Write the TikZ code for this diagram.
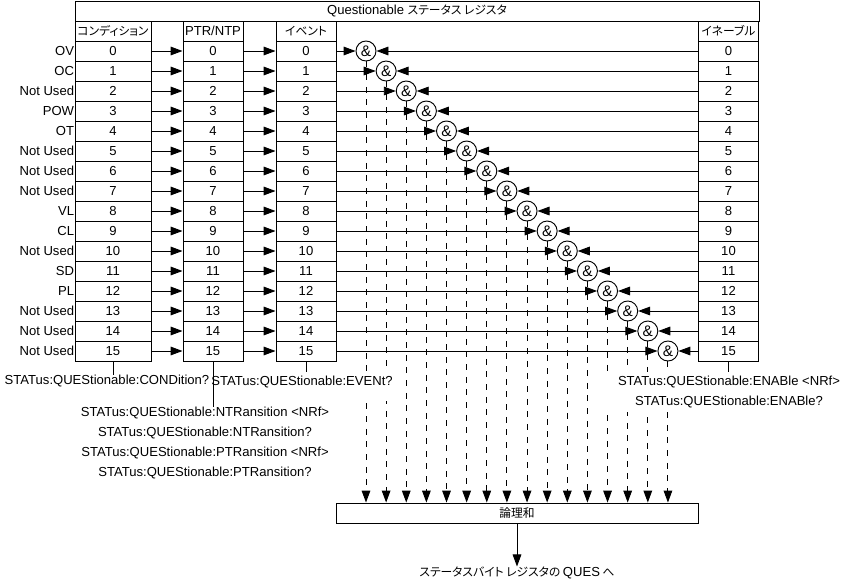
\documentclass[tikz,border=0pt]{standalone}
\usepackage{fontspec}
\setmainfont{Liberation Sans}
\newfontfamily\jp[RawFeature=+palt, Scale=0.9]{Noto Sans CJK JP}
\usetikzlibrary{arrows.meta,positioning}

\begin{document}
\begin{tikzpicture}
		[x=0.75pt, y=-0.75pt, font=\fontsize{9.8pt}{15pt}\selectfont, line width=0.7pt,
		reg/.style	= {rectangle, draw, inner sep=0pt, minimum height=15pt},
		cond/.style	= {reg, minimum width=57pt},
		bit/.style	= {reg, minimum width=45pt},
		gate/.style	= {circle, draw, inner sep=0pt, minimum size=15pt, font=\fontsize{11.5pt}{12pt}\selectfont},
		paths/.style	= {-{Triangle[length=9pt,width=6.5pt]}},
		enpath/.style	= {paths, dash pattern=on 4.5pt off 5pt},
		cmd/.style	= {inner sep=0pt},
		blank/.style	= {fill=white, inner xsep=2pt, inner ysep=3pt}]
		
		\useasboundingbox (0,0) rectangle (844,583);
		
		% register title and column heads
		\node at (417, 11)		[reg, minimum width=513pt]	(title)	{Questionable {\jp ステータス レジスタ}};
		\node at (113, 31)		[cond]	(hc)	{\jp コンディション};
		\node at (213, 31)		[bit]	(hp)	{PTR/NTP};
		\node at (306, 31)		[bit]	(he)	{\jp イベント};
		\node at (728.5, 31)	[bit]	(hn)	{\jp イネーブル};
		
		\node at (517, 513)		[reg, minimum width=271.5pt]	(lor)	{\jp 論理和};
		
		% one row per bit
		\foreach \name [count=\k from 0] in {OV,OC,Not Used,POW,OT,Not Used,Not Used,Not Used,VL,CL,Not Used,SD,PL,Not Used,Not Used,Not Used} {
			\pgfmathsetmacro\ry{51+20*\k}
			\pgfmathsetmacro\gx{366+20.13*\k}
			\node at (113, \ry)		[cond]	(c\k)	{\k};
			\node at (213, \ry)		[bit]	(p\k)	{\k};
			\node at (306, \ry)		[bit]	(e\k)	{\k};
			\node at (728.5, \ry)	[bit]	(n\k)	{\k};
			\node at (\gx, \ry)		[gate]	(g\k)	{\&};
			\node [cmd, left=0pt of c\k]	(l\k)	{\name};
			
			\draw [paths] (c\k.east) -- (p\k.west);
			\draw [paths] (p\k.east) -- (e\k.west);
			\draw [paths] (e\k.east) -- (g\k.west);
			\draw [paths] (n\k.west) -- (g\k.east);
			\draw [enpath] (g\k.south) -- (g\k.south |- lor.north);
		}
		
		% query and setting commands
		\node at (107, 381)		[cmd]	(condq)	{STATus:QUEStionable:CONDition?};
		\node at (302, 372)		[blank, anchor=north, text depth=8pt]	(evq)	{STATus:QUEStionable:EVENt?};
		\node at (729, 372)		[blank, anchor=north, align=center, minimum width=186pt]	(enq)	{STATus:QUEStionable:ENABle <NRf>\\STATus:QUEStionable:ENABle?};
		\node at (205, 413)		[cmd]	(nt1)	{STATus:QUEStionable:NTRansition <NRf>};
		\node at (205, 433)		[cmd]	(nt2)	{STATus:QUEStionable:NTRansition?};
		\node at (205, 453)		[cmd]	(pt1)	{STATus:QUEStionable:PTRansition <NRf>};
		\node at (205, 473)		[cmd]	(pt2)	{STATus:QUEStionable:PTRansition?};
		
		\draw (c15.south) -- (c15.south |- condq.north);
		\draw (p15.south) -- (p15.south |- nt1.north);
		\draw (e15.south) -- (evq.north -| e15.south);
		\draw (n15.south) -- (enq.north -| n15.south);
		
		\node at (517, 573)		[cmd]	(ques)	{\jp ステータスバイト レジスタの {\rmfamily QUES} へ};
		\draw [paths] (lor.south) -- (ques.north);
		
\end{tikzpicture}
\end{document}
